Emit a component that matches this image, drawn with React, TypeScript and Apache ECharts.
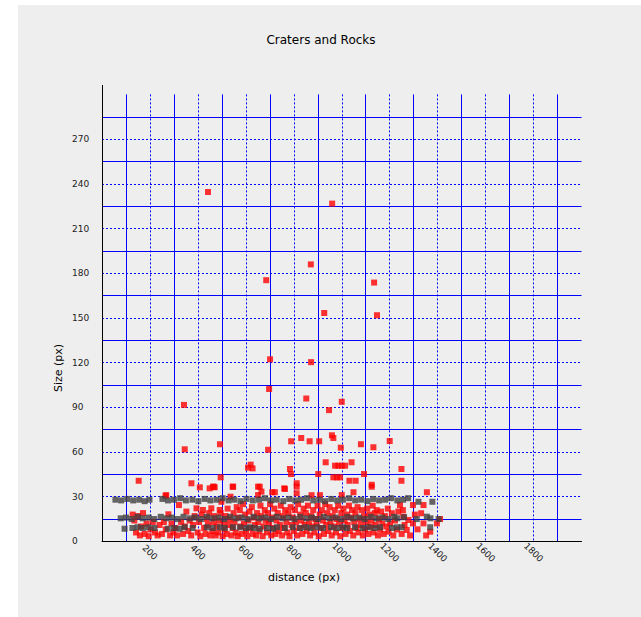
import React, { useEffect, useRef } from "react";
import * as echarts from "echarts";

// Craters (red) : [distance, size]
const craterOutliers: [number, number][] = [
  [442, 234.5], [960, 226.7], [871, 185.9], [685, 175.3], [1135, 173.7], [1147, 151.8],
  [927, 153.3], [701, 122.2], [872, 120.3], [697, 102.3], [852, 95.9], [342, 91.6],
  [1000, 93.7], [947, 88.1],
];

const craterMid: [number, number][] = [
  [345, 61.8], [492, 65.2], [609, 49.5], [620, 51.5], [628, 49], [693, 61.5], [789, 67.2],
  [831, 69.4], [866, 67.2], [906, 67.2], [959, 71.2], [965, 69.4], [996, 62.9], [1080, 65.2],
  [1132, 63.2], [1200, 67.4], [495, 43], [784, 48.6], [788, 45.2], [902, 45.2], [933, 53.1],
  [972, 50.8], [986, 50.8], [1000, 50.8], [1014, 50.8], [1041, 53.1], [965, 43], [980, 43],
  [993, 43], [1032, 40.7], [1058, 40.7], [1093, 45.2], [1249, 48.6], [1249, 40.7], [812, 39],
  [812, 36.7], [466, 36.7], [449, 35.6], [545, 36.7], [658, 36.7], [760, 35.6], [1125, 36.7],
  [153, 40.7], [373, 39], [463, 36.7], [721, 33], [763, 35.2], [1049, 33], [1355, 33],
  [1000, 31.1], [874, 31], [909, 31], [265, 30.7], [268, 31], [408, 36.3], [470, 36.3],
  [547, 36.7], [651, 36.7], [665, 33.4], [710, 33], [812, 32.3], [651, 31.1], [1125, 38],
];

const craterDense: [number, number][] = [
  [128, 18], [135, 14], [142, 6], [150, 17], [158, 4], [163, 10], [171, 19], [178, 5], [186, 12],
  [195, 3.5], [203, 8], [212, 13], [221, 6], [232, 4], [240, 11], [250, 5], [258, 13], [266, 8],
  [277, 18.2], [284, 4], [290, 12], [298, 6], [306, 9], [313, 4], [321, 24.4], [330, 13], [338, 5],
  [345, 10], [352, 20], [360, 7], [366, 14], [372, 4], [380, 11], [386, 17],
  [394, 22.2], [399, 6], [405, 13], [410, 3.5], [416, 18], [421, 21.1], [426, 9], [432, 5],
  [437, 15], [442, 11], [447, 19], [452, 4], [456, 22.2], [460, 7], [465, 13], [470, 17],
  [474, 4], [479, 10], [484, 6], [488, 14], [491, 21.1], [495, 19], [498, 26.6], [503, 3.5],
  [507, 12], [511, 8], [516, 17], [520, 5], [524, 22], [529, 11], [532, 15], [536, 30],
  [540, 4], [545, 9], [549, 19], [553, 13], [558, 6], [562, 23], [566, 3.5], [570, 16],
  [575, 21], [579, 10], [584, 5], [588, 25], [592, 12], [597, 18], [601, 7], [606, 3.5],
  [611, 14], [615, 20], [620, 9], [625, 23], [629, 5], [634, 16], [638, 11], [643, 4],
  [647, 19], [652, 13], [656, 7], [661, 24], [665, 17], [670, 3.5], [674, 10], [679, 21],
  [683, 14], [688, 6], [692, 19], [697, 12], [701, 25], [706, 4], [710, 16], [715, 9],
  [719, 22], [724, 5], [728, 14], [733, 19], [737, 7], [742, 11], [746, 24], [751, 4],
  [755, 17], [760, 9], [764, 21], [769, 13], [773, 6], [778, 19], [782, 3.5], [787, 23],
  [791, 11], [796, 16], [800, 7], [805, 21], [809, 13], [814, 4], [818, 25], [823, 9],
  [827, 18], [832, 14], [836, 5], [841, 22], [845, 11], [850, 19], [854, 7], [859, 24],
  [863, 13], [868, 4], [872, 17], [877, 10], [881, 21], [886, 6], [890, 15], [895, 12],
  [899, 24], [904, 3.5], [908, 18], [913, 9], [917, 21], [922, 14], [926, 5], [931, 25],
  [935, 11], [940, 19], [944, 7], [949, 23], [953, 13], [958, 4], [962, 17], [967, 10],
  [971, 21], [976, 6], [980, 15], [985, 24], [989, 12], [994, 3.5], [998, 19], [1003, 9],
  [1007, 22], [1012, 14], [1016, 5], [1021, 18], [1025, 11], [1030, 24], [1034, 7], [1039, 16],
  [1043, 21], [1048, 4], [1052, 13], [1057, 19], [1061, 9], [1066, 23], [1070, 6], [1075, 15],
  [1079, 11], [1084, 21], [1088, 4], [1093, 17], [1097, 8], [1102, 13], [1106, 22], [1111, 5],
  [1115, 18], [1120, 10], [1124, 14], [1129, 24], [1133, 6], [1138, 19], [1142, 11], [1146, 21],
  [1151, 4], [1155, 15], [1160, 8], [1164, 20], [1169, 12], [1175, 5], [1180, 17], [1186, 10],
  [1192, 22], [1195, 6.5], [1202, 12.1], [1209, 18.9], [1215, 4], [1222, 14], [1230, 8],
  [1236, 20], [1243, 24.4], [1250, 5], [1255, 21], [1257, 16.6], [1262, 11], [1271, 7.7],
  [1278, 14.4], [1285, 4], [1297, 24.4], [1297, 12.1], [1305, 18], [1316, 8.1], [1331, 18.9],
  [1341, 24.4], [1341, 12.1], [1352, 4], [1369, 6.5], [1397, 12.1], [1410, 15],
];

// Rocks (dark grey) : [distance, size]
const rocksTop: [number, number][] = [
  [56, 28], [80, 27.5], [105, 28.5], [130, 27.5], [155, 28], [178, 27], [198, 28],
  [252, 28.5], [275, 27.5], [300, 28], [326, 29], [350, 27.5], [377, 28], [402, 27], [428, 28.5],
  [452, 27.5], [478, 28], [503, 29], [528, 27.5], [552, 28], [578, 27], [603, 28.5], [629, 27.5],
  [655, 28], [680, 29], [705, 27.5], [729, 28], [756, 27], [781, 28.5], [806, 27.5], [830, 28],
  [855, 29], [881, 27.5], [906, 28], [930, 27], [956, 28.5], [981, 27.5], [1005, 28], [1031, 29],
  [1056, 27.5], [1081, 28], [1107, 27], [1131, 28.5], [1156, 27.5], [1181, 28], [1206, 29],
  [1232, 27.5], [1256, 28], [1277, 29], [1320, 26.6], [1378, 26.6],
];

const rocksMid: [number, number][] = [
  [78, 15.5], [100, 16], [124, 15], [148, 16.5], [170, 15.5], [195, 16], [218, 15], [245, 16.5],
  [268, 15.5], [292, 16], [316, 15], [340, 16.5], [365, 15.5], [388, 16], [412, 15], [437, 16.5],
  [460, 15.5], [485, 16], [510, 15], [534, 16.5], [558, 15.5], [583, 16], [607, 15], [632, 16.5],
  [656, 15.5], [680, 16], [705, 15], [729, 16.5], [754, 15.5], [778, 16], [803, 15], [827, 16.5],
  [852, 15.5], [876, 16], [900, 15], [925, 16.5], [949, 15.5], [974, 16], [998, 15], [1023, 16.5],
  [1047, 15.5], [1072, 16], [1096, 15], [1121, 16.5], [1145, 15.5], [1170, 16], [1194, 15],
  [1219, 16.5], [1232, 15.5], [1260, 16.2], [1313, 15], [1355, 16.6], [1370, 15.5], [1404, 15],
];

const rocksLow: [number, number][] = [
  [94, 8.5], [127, 9], [148, 9.5], [170, 9], [194, 9.5], [219, 9], [274, 8.5], [300, 9],
  [324, 8.5], [345, 9.5], [378, 9], [437, 9.5], [462, 9], [491, 9.5], [512, 9], [546, 9.5],
  [575, 9.5], [600, 9], [617, 9.5], [635, 9], [658, 8.5], [688, 9], [713, 8.5], [730, 9.5],
  [763, 9], [796, 9.5], [826, 9], [850, 9.5], [871, 9], [897, 9.5], [922, 9], [955, 9.5],
  [980, 9], [1005, 9.5], [1022, 9], [1055, 9.5], [1087, 9], [1112, 9.5], [1137, 9],
  [1160, 9.5], [1210, 9], [1231, 9.5], [1250, 9.5], [1369, 9.5],
];

const craters = [...craterOutliers, ...craterMid, ...craterDense];
const rocks = [...rocksTop, ...rocksMid, ...rocksLow];

const X_MIN = 0;
const X_MAX = 2000;
const X_STEP = 200;
const Y_MIN = 0;
const Y_MAX = 300;
const Y_STEP = 30;

const FONT = "DejaVu Sans";
const BLUE = "#0000ff";
const CLEAR = "rgba(0,0,0,0)";

export default function App() {
  const ref = useRef<HTMLDivElement>(null);

  useEffect(() => {
    if (!ref.current) return;
    const chart = echarts.init(ref.current, undefined, { renderer: "svg" });
    const hidden = { show: false };
    chart.setOption({
      animation: false,
      backgroundColor: "#eeeeee",
      grid: { left: 84, right: 59.5, top: 89.4, bottom: 75.6, containLabel: false },
      graphic: [
        {
          type: "text",
          x: 303,
          y: 35,
          style: { text: "Craters and Rocks", fontFamily: FONT, fontSize: 12, fill: "#000", textAlign: "center", textVerticalAlign: "middle" },
        },
        {
          type: "text",
          x: 286,
          y: 572,
          style: { text: "distance (px)", fontFamily: FONT, fontSize: 11, fill: "#000", textAlign: "center", textVerticalAlign: "middle" },
        },
        {
          type: "text",
          x: 40,
          y: 363,
          rotation: Math.PI / 2,
          style: { text: "Size (px)", fontFamily: FONT, fontSize: 11, fill: "#000", textAlign: "center", textVerticalAlign: "middle" },
        },
        {
          type: "line",
          z: 100,
          shape: { x1: 84.5, y1: 80, x2: 84.5, y2: 90 },
          style: { stroke: "#000", lineWidth: 1 },
        },
      ],
      xAxis: [
        {
          type: "value",
          min: X_MIN,
          max: X_MAX,
          interval: X_STEP / 2,
          axisLine: hidden,
          axisTick: hidden,
          axisLabel: hidden,
          splitLine: { show: true, showMinLine: true, showMaxLine: true, lineStyle: { color: [CLEAR, BLUE], width: 1, type: "solid" } },
        },
        {
          type: "value",
          min: X_MIN,
          max: X_MAX,
          interval: X_STEP,
          position: "bottom",
          axisLine: { show: true, onZero: false, lineStyle: { color: "#000", width: 1 } },
          axisTick: { show: false },
          axisLabel: {
            showMinLabel: false,
            showMaxLabel: false,
            rotate: -45,
            align: "center",
            verticalAlign: "middle",
            margin: 11,
            padding: [11, 0, 0, 0],
            fontFamily: FONT,
            fontSize: 9,
            color: "#222",
            formatter: (v: number) => String(v),
          },
          splitLine: { show: true, showMinLine: false, showMaxLine: false, lineStyle: { color: BLUE, width: 1, type: [2, 2] } },
        },
      ],
      yAxis: [
        {
          type: "value",
          min: Y_MIN,
          max: Y_MAX,
          interval: Y_STEP / 2,
          axisLine: hidden,
          axisTick: hidden,
          axisLabel: hidden,
          splitLine: { show: true, showMinLine: true, showMaxLine: true, lineStyle: { color: [CLEAR, BLUE], width: 1, type: "solid" } },
        },
        {
          type: "value",
          min: Y_MIN,
          max: Y_MAX,
          interval: Y_STEP,
          position: "left",
          axisLine: { show: true, onZero: false, lineStyle: { color: "#000", width: 1 } },
          axisTick: { show: false },
          axisLabel: {
            showMaxLabel: false,
            align: "left",
            margin: 30,
            padding: [5, 0, 0, 0],
            fontFamily: FONT,
            fontSize: 9,
            color: "#222",
            formatter: (v: number) => String(v),
          },
          splitLine: { show: true, showMinLine: false, showMaxLine: false, lineStyle: { color: BLUE, width: 1, type: [2, 2] } },
        },
      ],
      series: [
        {
          name: "Craters",
          type: "scatter",
          xAxisIndex: 1,
          yAxisIndex: 1,
          data: craters,
          symbol: "rect",
          symbolSize: 6,
          itemStyle: { color: "#ff0000" },
        },
        {
          name: "Rocks",
          type: "scatter",
          xAxisIndex: 1,
          yAxisIndex: 1,
          data: rocks,
          symbol: "rect",
          symbolSize: 6,
          itemStyle: { color: "#404040" },
        },
      ],
    });
    return () => chart.dispose();
  }, []);

  return (
    <div style={{ position: "fixed", left: 0, top: 0, width: 641, height: 617, background: "#ffffff" }}>
      <div ref={ref} style={{ position: "absolute", left: 18, top: 5, width: 623, height: 612 }} />
    </div>
  );
}
